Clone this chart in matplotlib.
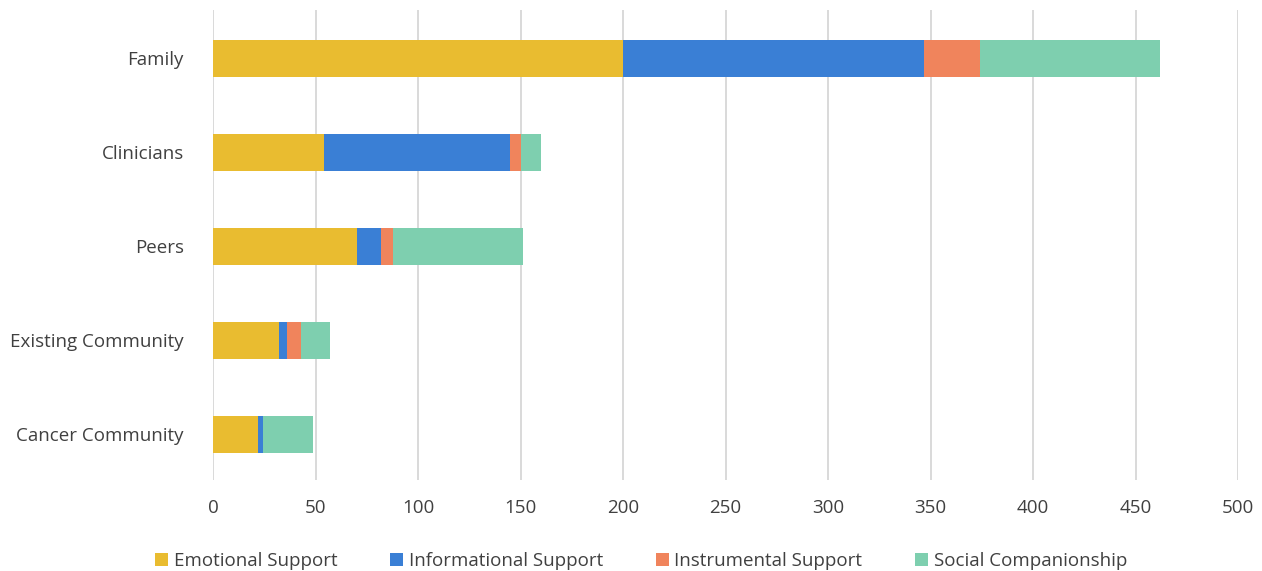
import matplotlib
matplotlib.use("Agg")
import matplotlib.pyplot as plt
import numpy as np

plt.rcParams['font.family'] = ['Open Sans', 'DejaVu Sans']

categories = ["Family", "Clinicians", "Peers", "Existing Community", "Cancer Community"]
series_names = ["Emotional Support", "Informational Support", "Instrumental Support", "Social Companionship"]
emotional = [200, 54, 70, 32, 22]
informational = [147, 91, 12, 4, 2.5]
instrumental = [27, 5, 6, 7, 0]
social = [88, 10, 63, 14, 24.5]
colors = ["#E9BC30", "#3A7FD5", "#F0845C", "#7ECFAF"]
x_ticks = [0, 50, 100, 150, 200, 250, 300, 350, 400, 450, 500]

fig = plt.figure(figsize=(12.62, 5.71), dpi=100)
ax = fig.add_axes([0.1688, 0.1594, 0.8122, 0.8231])

y = np.arange(len(categories))
left = np.zeros(len(categories))
for vals, name, col in zip([emotional, informational, instrumental, social], series_names, colors):
    ax.barh(y, vals, left=left, height=0.4, color=col, label=name, zorder=3)
    left += np.array(vals)

# slight offset so bars sit where they do in the original
ax.set_ylim(len(categories) - 0.5 - 0.015, -0.5 - 0.015)
ax.set_xlim(0, 500)
ax.set_yticks(y)
ax.set_yticklabels(categories)
ax.set_xticks(x_ticks)
ax.grid(axis="x", color="#D9D9D9", linewidth=1.4, zorder=0)
for s in ax.spines.values():
    s.set_visible(False)
ax.tick_params(axis="both", length=0, labelsize=13.5, labelcolor="#404040")
ax.tick_params(axis="y", pad=21)
ax.tick_params(axis="x", pad=14)

fig.legend(loc="lower center", ncol=4, frameon=False, fontsize=13.5, bbox_to_anchor=(0.508, -0.028),
           handlelength=0.7, handleheight=0.7, handletextpad=0.3, columnspacing=2.8,
           labelcolor="#404040")

fig.savefig("out.png", dpi=100)
